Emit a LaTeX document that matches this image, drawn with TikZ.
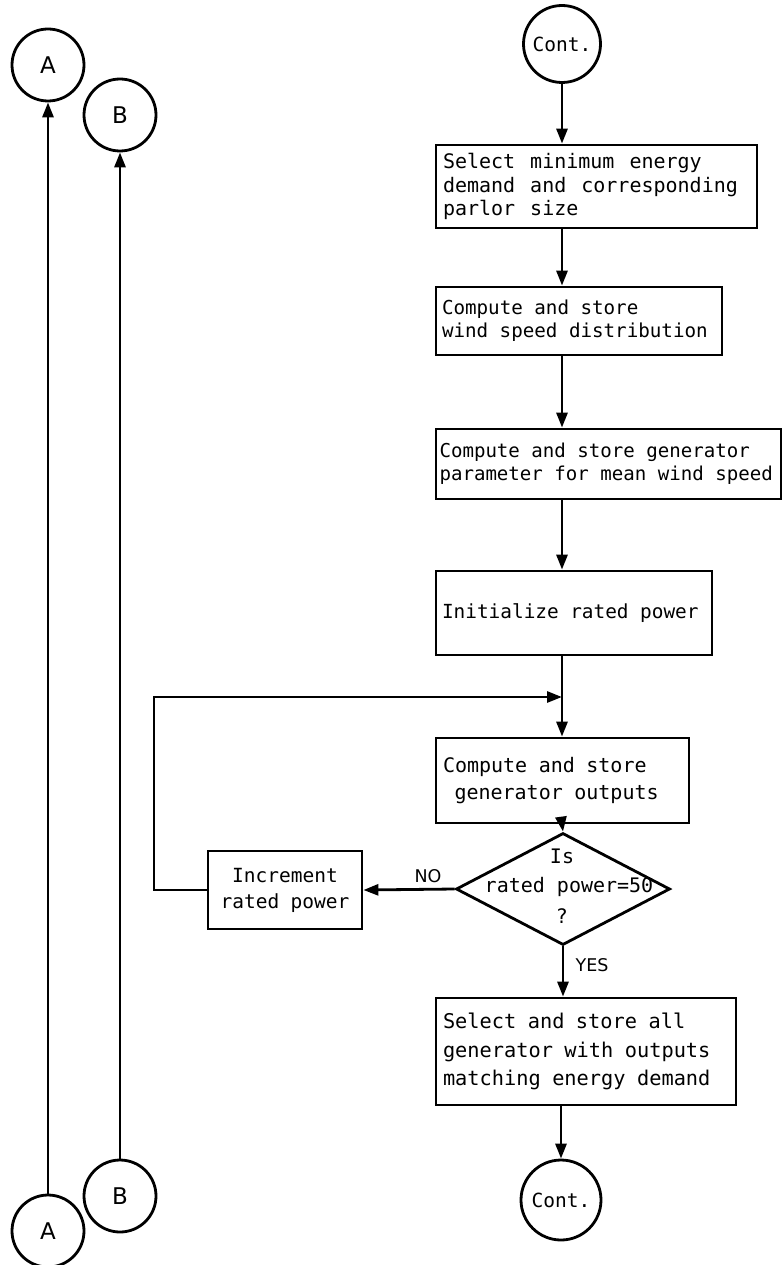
\documentclass[tikz,border=0pt]{standalone}
\usepackage{fontspec}
\setmainfont{DejaVu Sans}
\newfontfamily\lmono{DejaVu Sans Mono}
\usetikzlibrary{arrows.meta,shapes.geometric}
\newcommand{\mfs}[2]{\lmono\fontsize{#1}{#2}\selectfont}
\tikzset{
  ln/.style={line width=2.8pt},
  arr/.style={ln,-{Triangle[length=15pt,width=11pt]}},
  box/.style={draw,ln,rectangle,inner xsep=7pt,inner ysep=0pt,align=left,
    execute at begin node={\spaceskip=11.5pt\relax}},
  conn/.style={draw,ln,circle,inner sep=0pt},
  ab/.style={conn,minimum size=72pt,font=\fontsize{23}{26}\selectfont},
  lbl/.style={font=\mfs{20}{24},inner sep=0pt},
  yn/.style={font=\fontsize{17.5}{20}\selectfont,inner sep=0pt},
}
\begin{document}
\begin{tikzpicture}[x=1pt,y=-1pt]
\useasboundingbox (0,0) rectangle (783,1265);
% connectors A/B
\node[ab] (At) at (48,65) {A};
\node[ab] (Bt) at (120,115) {B};
\node[ab] (Bb) at (120,1196) {B};
\node[ab] (Ab) at (48,1231) {A};
\draw[arr] (Ab) -- (At);
\draw[arr] (Bb) -- (Bt);
% main column
\node[conn,minimum size=77pt,font=\mfs{19.5}{22}] (c1) at (562,44) {Cont.};
\node[box,minimum width=321pt,minimum height=83pt,text width=307pt,font=\mfs{20}{23.5}] (b1) at (596.5,186.5)
  {\spaceskip=15pt\relax Select minimum energy\\demand and corresponding\\parlor size};
\node[box,minimum width=286pt,minimum height=68pt,text width=274pt,inner xsep=6pt,font=\mfs{19.2}{23}] (b2) at (579,321)
  {Compute and store\\wind speed distribution};
\node[box,minimum width=345pt,minimum height=70pt,text width=338pt,inner xsep=3.5pt,font=\mfs{19.1}{23}] (b3) at (608.5,464)
  {Compute and store generator\\parameter for mean wind speed};
\node[box,minimum width=276pt,minimum height=84pt,text width=264pt,inner xsep=6pt,font=\mfs{19.4}{23}] (b4) at (574,613)
  {Initialize rated power\\[18pt]};
\node[box,minimum width=253pt,minimum height=85pt,text width=239pt,font=\mfs{20}{27}] (b5) at (562.5,780.5)
  {Compute and store\\\ generator outputs};
\node[draw,ln,diamond,minimum width=214pt,minimum height=112pt,inner sep=0pt] (d) at (563,889) {};
\node[lbl] (dt1) at (562,856) {Is};
\node[lbl] (dt2) at (569,887) {rated power=50};
\node[lbl] (dt3) at (562,916) {?};
\node[box,minimum width=154pt,minimum height=78pt,align=center,font=\mfs{19.5}{26}] (inc) at (285,890)
  {Increment\\rated power};
\node[box,minimum width=300pt,minimum height=107pt,text width=286pt,font=\mfs{20.3}{28.5}] (b6) at (586,1051.5)
  {Select and store all\\generator with outputs\\matching energy demand};
\node[conn,minimum size=80pt,font=\mfs{19.5}{22}] (c2) at (561,1200) {Cont.};
% flow
\draw[arr] (c1) -- (b1.north -| c1);
\draw[arr] (b1.south -| c1) -- (b2.north -| c1);
\draw[arr] (b2.south -| c1) -- (b3.north -| c1);
\draw[arr] (b3.south -| c1) -- (b4.north -| c1);
\draw[arr] (b4.south -| c1) -- (b5.north -| c1);
\draw[arr] (b5.south -| c1) -- (d.north);
\draw[arr] (d.west) -- (inc.east);
\node[yn] (no) at (428,876) {NO};
\coordinate (j) at (562,697);
\coordinate (lc) at (154,697);
\draw[arr] (inc.west) -| (lc) -- (j);
\draw[arr] (d.south) -- (b6.north -| d.south);
\node[yn] (yes) at (592,965) {YES};
\draw[arr] (b6.south -| c2) -- (c2);
\end{tikzpicture}
\end{document}
